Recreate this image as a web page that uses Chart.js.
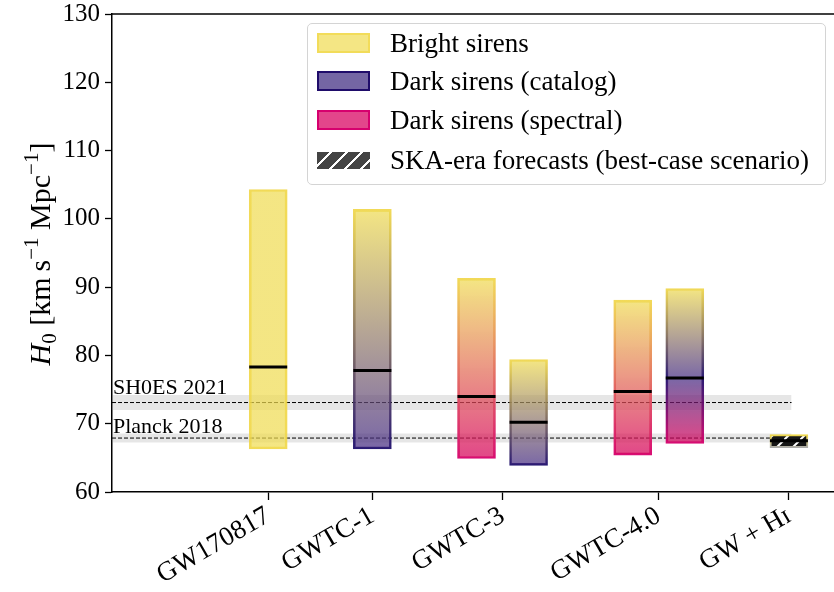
<!DOCTYPE html>
<html>
<head>
<meta charset="utf-8">
<script src="https://cdn.jsdelivr.net/npm/chart.js@4.4.1/dist/chart.umd.min.js"></script>
<style>
  body { margin: 0; background: #fff; }
  #wrap { position: relative; width: 834px; height: 592px; overflow: hidden; }
  #c { position: absolute; left: 0; top: -8px; }
  #legend { position: absolute; left: 307px; top: 23px; width: 519px; height: 162px;
    border: 1.5px solid #d4d4d4; border-radius: 5px; background: rgba(255,255,255,0.85);
    box-sizing: border-box; font-family: 'Liberation Serif', 'Times New Roman', serif; font-size: 27px; color: #000; }
  .row { position: absolute; left: 9px; height: 20px; display: flex; align-items: center; }
  .sw { width: 53px; height: 20px; box-sizing: border-box; border: 2px solid; }
  .lab { margin-left: 20px; white-space: nowrap; line-height: 20px; }
</style>
</head>
<body>
<div id="wrap">
  <canvas id="c" width="863" height="600" style="width:863px;height:600px"></canvas>
  <div id="legend">
    <div class="row" style="top:9px"><div class="sw" style="background:#f4e684;border-color:#f2dc5a"></div><span class="lab">Bright sirens</span></div>
    <div class="row" style="top:47px"><div class="sw" style="background:#7466a4;border-color:#1f0c6a"></div><span class="lab">Dark sirens (catalog)</span></div>
    <div class="row" style="top:86px"><div class="sw" style="background:#e3458b;border-color:#d6006e"></div><span class="lab">Dark sirens (spectral)</span></div>
    <div class="row" style="top:126px"><div class="sw" style="border:none;height:17px;background:repeating-linear-gradient(135deg,#444 0 9px,#fff 9px 11px)"></div><span class="lab">SKA-era forecasts (best-case scenario)</span></div>
  </div>
</div>
<script>
// tick labels on x, at group centres
const categories = ['GW170817', 'GWTC-1', 'GWTC-3', 'GWTC-4.0', 'GW + H\u026A'];
const tickPos = [0, 2, 4.5, 7.5, 10];

// bright sirens
const brightX = [0];
const brightLo = [66.3];
const brightHi = [104.3];
const brightMed = [78.3];

// dark sirens, catalog
const catalogX = [2, 5, 8];
const catalogLo = [66.3, 63.9, 67.1];
const catalogHi = [101.4, 79.4, 89.8];
const catalogMed = [77.8, 70.2, 76.7];

// dark sirens, spectral
const spectralX = [4, 7];
const spectralLo = [64.9, 65.4];
const spectralHi = [91.3, 88.1];
const spectralMed = [74.0, 74.7];

// SKA forecast
const skaX = [10];
const skaLo = [66.5];
const skaHi = [68.4];
const skaMed = [67.5];

// reference bands
const shoes = { name: 'SH0ES 2021', mid: 73.1, lo: 72.0, hi: 74.2 };
const planck = { name: 'Planck 2018', mid: 67.9, lo: 67.25, hi: 68.55 };
const bandEnd = 10.05;

const FONT = "'Liberation Serif', 'Times New Roman', serif";
const fillCol = { yellow: 'rgba(239,219,79,0.7)', purple: 'rgba(65,39,128,0.7)', pink: 'rgba(214,0,90,0.72)' };
const edgeCol = { yellow: 'rgba(240,214,70,0.9)', purple: 'rgba(30,14,108,0.95)', pink: 'rgba(214,0,108,0.95)' };

const stops = {
  bright: [[[0, 'yellow'], [1, 'yellow']]],
  catalog: [
    [[0, 'yellow'], [1, 'purple']],
    [[0, 'yellow'], [1, 'purple']],
    [[0, 'yellow'], [0.58, 'purple'], [1, 'pink']]
  ],
  spectral: [
    [[0, 'yellow'], [1, 'pink']],
    [[0, 'yellow'], [1, 'pink']]
  ]
};

function barGrad(kind, pal){
  return ctx => {
    if(ctx.type !== 'data') return pal.yellow;
    const c = ctx.chart;
    if(!c.chartArea) return pal.yellow;
    const r = ctx.raw.y;
    const top = c.scales.y.getPixelForValue(r[1]);
    const bot = c.scales.y.getPixelForValue(r[0]);
    const g = c.ctx.createLinearGradient(0, top, 0, bot);
    stops[kind][ctx.dataIndex].forEach(([o, k]) => g.addColorStop(o, pal[k]));
    return g;
  };
}

function hatch(){
  const p = document.createElement('canvas');
  p.width = 16; p.height = 16;
  const g = p.getContext('2d');
  g.fillStyle = '#161616'; g.fillRect(0, 0, 16, 16);
  g.strokeStyle = '#fff'; g.lineWidth = 2;
  g.beginPath(); g.moveTo(-2, 18); g.lineTo(18, -2); g.stroke();
  return g.createPattern(p, 'repeat');
}

function bars(xs, lo, hi){ return xs.map((x, i) => ({ x, y: [lo[i], hi[i]] })); }
function meds(xs, m){ return xs.map((x, i) => ({ x, y: m[i] })); }
function hline(y){ return [{ x: -3, y }, { x: bandEnd, y }]; }

const barCommon = { type: 'bar', grouped: false, barThickness: 38, borderWidth: 2, borderSkipped: false, order: 5 };

const datasets = [
  { type: 'line', data: hline(shoes.hi), fill: { value: shoes.lo }, backgroundColor: 'rgba(128,128,128,0.2)', borderWidth: 0, pointRadius: 0, order: 10 },
  { type: 'line', data: hline(planck.hi), fill: { value: planck.lo }, backgroundColor: 'rgba(128,128,128,0.2)', borderWidth: 0, pointRadius: 0, order: 10 },
  { type: 'line', data: hline(shoes.mid), borderColor: '#000', borderWidth: 1, borderDash: [4, 2], pointRadius: 0, order: 9 },
  { type: 'line', data: hline(planck.mid), borderColor: '#000', borderWidth: 1, borderDash: [4, 2], pointRadius: 0, order: 9 },
  { ...barCommon, label: 'Bright sirens', data: bars(brightX, brightLo, brightHi),
    backgroundColor: barGrad('bright', fillCol), borderColor: barGrad('bright', edgeCol) },
  { ...barCommon, label: 'Dark sirens (catalog)', data: bars(catalogX, catalogLo, catalogHi),
    backgroundColor: barGrad('catalog', fillCol), borderColor: barGrad('catalog', edgeCol) },
  { ...barCommon, label: 'Dark sirens (spectral)', data: bars(spectralX, spectralLo, spectralHi),
    backgroundColor: barGrad('spectral', fillCol), borderColor: barGrad('spectral', edgeCol) },
  { ...barCommon, label: 'SKA-era forecasts', data: bars(skaX, skaLo, skaHi),
    backgroundColor: hatch(), borderColor: ctx => {
      const c = ctx.chart; if(!c.chartArea || ctx.type !== 'data') return '#999';
      const r = ctx.raw.y;
      const g = c.ctx.createLinearGradient(0, c.scales.y.getPixelForValue(r[1]), 0, c.scales.y.getPixelForValue(r[0]));
      g.addColorStop(0, '#f0d846'); g.addColorStop(1, '#aaaaaa');
      return g;
    } },
  { type: 'scatter', data: [...meds(brightX, brightMed), ...meds(catalogX, catalogMed), ...meds(spectralX, spectralMed), ...meds(skaX, skaMed)],
    pointStyle: 'line', pointRadius: 19, pointHoverRadius: 19, borderColor: '#000', borderWidth: 3, order: 1 }
];

const decor = {
  id: 'decor',
  afterDatasetsDraw(chart){
    const { ctx, chartArea: a, scales: { y } } = chart;
    ctx.save();
    ctx.font = '22px ' + FONT;
    ctx.fillStyle = '#000';
    ctx.textBaseline = 'alphabetic';
    ctx.fillText(shoes.name, a.left + 1, y.getPixelForValue(shoes.hi) - 1);
    ctx.fillText(planck.name, a.left + 1, y.getPixelForValue(planck.hi) - 1);
    ctx.restore();
  },
  afterDraw(chart){
    const { ctx, chartArea: a } = chart;
    ctx.save();
    ctx.strokeStyle = '#000'; ctx.lineWidth = 1.5;
    ctx.beginPath(); ctx.moveTo(a.left, a.top); ctx.lineTo(a.right, a.top); ctx.stroke();
    // y axis title, H_0 [km s^-1 Mpc^-1]
    const parts = [
      { t: 'H', f: 'italic 30px', dy: 0 },
      { t: '0', f: '21px', dy: 6 },
      { t: ' [km\u2009s', f: '30px', dy: 0 },
      { t: '\u22121', f: '21px', dy: -12 },
      { t: ' Mpc', f: '30px', dy: 0 },
      { t: '\u22121', f: '21px', dy: -12 },
      { t: ']', f: '30px', dy: 0 }
    ];
    let w = 0;
    parts.forEach(p => { ctx.font = p.f + ' ' + FONT; p.w = ctx.measureText(p.t).width; w += p.w; });
    ctx.translate(50, (a.top + a.bottom) / 2 + 1);
    ctx.rotate(-Math.PI / 2);
    ctx.fillStyle = '#000';
    let x = -w / 2;
    parts.forEach(p => { ctx.font = p.f + ' ' + FONT; ctx.fillText(p.t, x, p.dy); x += p.w; });
    ctx.restore();
  }
};

new Chart(document.getElementById('c'), {
  type: 'bar',
  data: { datasets },
  options: {
    responsive: false,
    animation: false,
    devicePixelRatio: 1,
    layout: { padding: { top: 5, right: 6.5, left: 0, bottom: 0 } },
    plugins: { legend: { display: false }, tooltip: { enabled: false } },
    scales: {
      x: {
        type: 'linear', min: -3, max: 11, offset: false,
        afterBuildTicks: s => { s.ticks = tickPos.map(v => ({ value: v })); },
        afterFit: s => { s.height = 100; },
        ticks: { callback: (v, i) => categories[i], autoSkip: false, minRotation: 30, maxRotation: 30,
          color: '#000', font: { family: FONT, size: 27 }, padding: 0 },
        grid: { drawOnChartArea: false, drawTicks: true, tickLength: 8, color: '#000', tickWidth: 1.3, offset: false },
        border: { color: '#000', width: 1.5 }
      },
      y: {
        min: 60, max: 130, beginAtZero: false,
        afterFit: s => { s.width = 112; },
        ticks: { stepSize: 10, color: '#000', font: { family: FONT, size: 25 }, padding: 5 },
        grid: { drawOnChartArea: false, drawTicks: true, tickLength: 7, color: '#000', tickWidth: 1.3 },
        border: { color: '#000', width: 1.5 }
      }
    }
  },
  plugins: [decor]
});
</script>
</body>
</html>
